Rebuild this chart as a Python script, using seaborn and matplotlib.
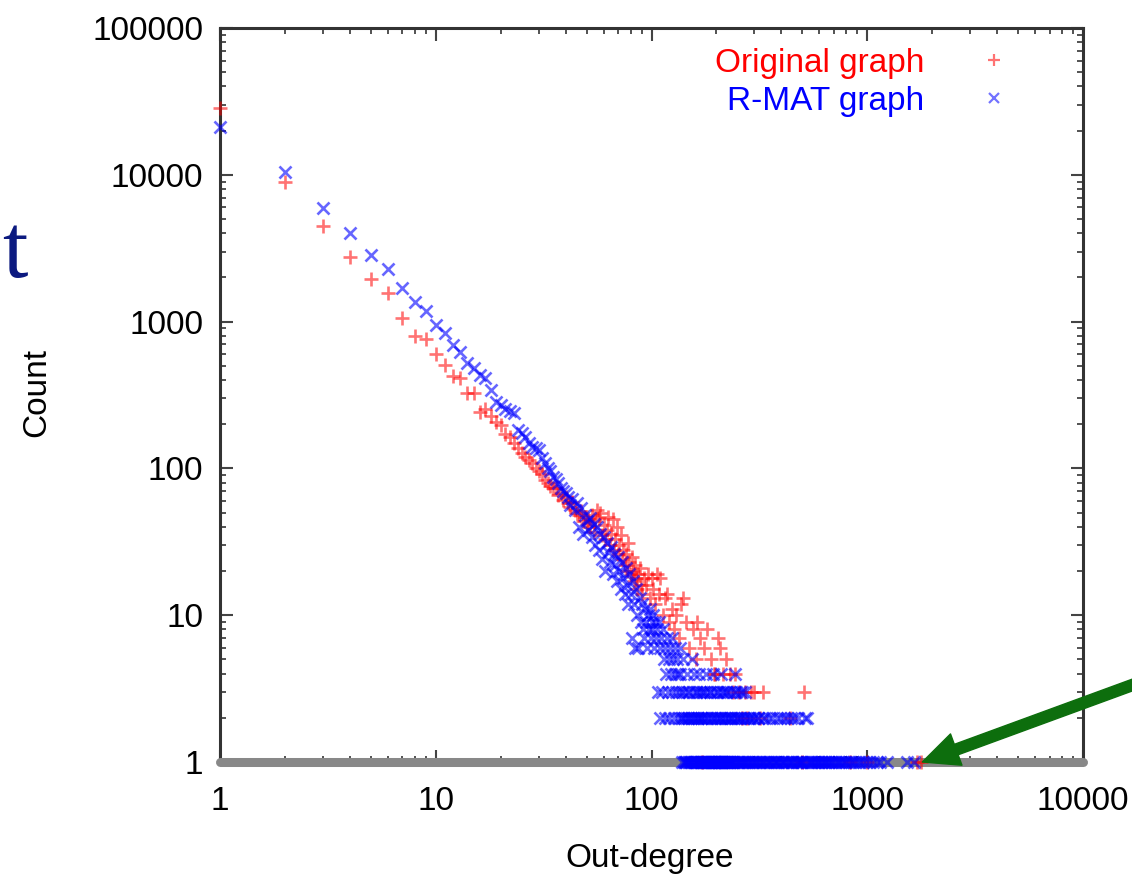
import matplotlib
matplotlib.use('Agg')

import matplotlib.pyplot as plt
from matplotlib.lines import Line2D
import numpy as np
import pandas as pd
import seaborn as sns

sns.set_style("ticks")
plt.rcParams['font.family'] = ['Liberation Sans', 'DejaVu Sans']

# original graph: counts for out-degree 1..90, then sparse tail
orig_head = [28500, 8900, 4450, 2750, 1950, 1560, 1050, 800, 760, 600,
             505, 425, 413, 327, 325, 242, 255, 228, 207, 196,
             172, 164, 150, 138, 127, 119, 114, 108, 101, 96,
             92, 84, 80, 76, 73, 74, 66, 68, 61, 64,
             58, 55, 59, 52, 50, 48, 51, 44, 47, 42,
             45, 40, 48, 37, 44, 52, 46, 50, 35, 41,
             33, 38, 47, 30, 36, 45, 28, 33, 40, 26,
             30, 35, 24, 28, 22, 26, 20, 31, 23, 19,
             25, 20, 17, 22, 18, 15, 19, 21, 16, 14]
orig_tail_deg = [92, 94, 96, 98, 100, 102, 104, 106, 108, 110, 113, 116, 118, 121,
                 124, 127, 130, 134, 137, 140, 145, 150, 155, 160, 162, 168, 175,
                 181, 188, 195, 197, 203, 207, 215, 222, 230, 238, 245, 255, 262,
                 270, 277, 290, 300, 318, 330, 440, 510,
                 172, 500, 830, 1000, 1700, 1780]
orig_tail_cnt = [18, 16, 19, 13, 18, 15, 12, 19, 14, 18, 10, 13, 14, 9,
                 11, 8, 10, 7, 12, 13, 9, 6, 8, 5, 9, 7, 6,
                 8, 5, 4, 4, 7, 6, 4, 5, 4, 3, 4, 3, 2,
                 3, 2, 3, 3, 2, 3, 2, 3,
                 1, 1, 1, 1, 1, 1]

# R-MAT graph: counts for out-degree 1..105, then sparse tail
rmat_head = [21200, 10400, 5940, 3990, 2840, 2280, 1690, 1360, 1180, 950,
             836, 693, 621, 523, 483, 433, 413, 342, 283, 270,
             254, 245, 238, 183, 175, 164, 150, 140, 137, 133,
             118, 108, 101, 96, 88, 85, 80, 74, 70, 68,
             64, 56, 62, 52, 58, 40, 54, 36, 48, 44,
             38, 46, 34, 42, 30, 40, 28, 36, 24, 34,
             20, 31, 27, 23, 29, 19, 26, 22, 17, 25,
             20, 15, 23, 18, 14, 21, 16, 12, 19, 14,
             7, 17, 12, 6, 15, 10, 6, 13, 9, 12,
             8, 7, 11, 9, 6, 10, 8, 11, 7, 9,
             8, 10, 6, 9, 7]
rmat_tail_deg = [106, 107, 108, 109, 110, 111, 112, 113, 114, 115, 116, 117, 118, 119, 120,
                 121, 122, 123, 124, 125, 126, 127, 128, 129, 130, 131, 132, 133, 134, 135,
                 136, 138, 140, 142, 144, 146, 148, 150, 152, 154, 156, 158, 160, 162, 164,
                 166, 168, 170, 172, 175, 178, 181, 184, 187, 190, 193, 196, 199, 202, 205,
                 208, 211, 214, 217, 220, 224, 228, 232, 236, 240, 244, 248, 252, 256, 260,
                 265, 270, 275, 280, 286, 292, 298, 305, 312, 320, 328, 336, 345, 354, 363,
                 372, 382, 392, 402, 413, 424, 436, 448, 460, 473, 486, 500, 512, 525, 540,
                 556, 573, 590, 608, 627, 646, 666, 690, 715, 740, 770, 800, 840, 880, 930,
                 990, 1060, 1150, 1230, 1530, 1640]
rmat_tail_cnt = [8, 3, 9, 2, 6, 7, 3, 8, 5, 2, 6, 4, 7, 3, 5,
                 2, 6, 4, 3, 7, 5, 2, 4, 6, 3, 5, 2, 4, 3, 6,
                 4, 2, 5, 3, 1, 4, 2, 3, 1, 5, 2, 4, 3, 1, 2,
                 4, 3, 2, 1, 3, 4, 2, 1, 3, 2, 4, 1, 2, 3, 1,
                 2, 4, 3, 1, 2, 3, 2, 1, 2, 3, 4, 2, 1, 3, 2,
                 1, 3, 2, 1, 2, 1, 2, 1, 2, 1, 1, 2, 1, 1, 2,
                 1, 1, 2, 1, 1, 2, 1, 1, 2, 1, 1, 1, 2, 2, 1,
                 1, 1, 1, 1, 1, 1, 1, 1, 1, 1, 1, 1, 1, 1, 1,
                 1, 1, 1, 1, 1, 1]
# further R-MAT degrees seen on the low-count rows
rmat_deg_at_1 = [139, 141, 143, 145, 147, 149, 151, 153, 155, 157, 159, 161, 163, 165, 167,
                 169, 171, 173, 174, 176, 177, 179, 180, 182, 183, 185, 186, 188, 189, 191,
                 192, 194, 195, 197, 198, 200, 201, 203, 204, 206, 207, 209, 210, 212, 213,
                 215, 216, 218, 219, 221, 223, 225, 227, 229, 231, 233, 235, 237, 239, 242,
                 246, 250, 254, 258, 262, 267, 272, 277, 283, 289, 295, 301, 308, 315, 324,
                 332, 340, 350, 358, 368, 377, 387, 397, 408, 418, 430, 442, 454, 466, 480,
                 493, 506, 518, 532, 548, 564, 582, 600, 618, 636, 656, 678, 702, 728, 755,
                 785, 820, 860, 905, 960, 1020, 1110]
rmat_deg_at_2 = [137, 141, 145, 149, 153, 157, 161, 165, 169, 173, 177, 183, 189, 195, 201,
                 207, 213, 219, 226, 234, 242, 250, 258, 268, 283, 295, 310, 330, 352, 380,
                 410, 445, 480]
rmat_deg_at_3 = [139, 147, 155, 163, 171, 179, 186, 194, 204, 212, 222, 230, 246, 262]

x_ticks = [1, 10, 100, 1000, 10000]
x_labels = ['1', '10', '100', '1000', '10000']
y_ticks = [1, 10, 100, 1000, 10000, 100000]
y_labels = ['1', '10', '100', '1000', '10000', '100000']

orig = pd.DataFrame({'degree': list(range(1, len(orig_head) + 1)) + orig_tail_deg,
                     'count': orig_head + orig_tail_cnt})
rmat = pd.DataFrame({'degree': list(range(1, len(rmat_head) + 1)) + rmat_tail_deg
                     + rmat_deg_at_1 + rmat_deg_at_2 + rmat_deg_at_3,
                     'count': rmat_head + rmat_tail_cnt + [1] * len(rmat_deg_at_1)
                     + [2] * len(rmat_deg_at_2) + [3] * len(rmat_deg_at_3)})

fig = plt.figure(figsize=(11.32, 8.82), dpi=100)
ax = fig.add_axes([220 / 1132, 1 - 762 / 882, 863 / 1132, 734 / 882])
ax.set_xscale('log')
ax.set_yscale('log')

ax.axhline(1, color='#888888', lw=6.5, zorder=2.6, clip_on=False)

sns.scatterplot(data=orig, x='degree', y='count', marker='+', color='red', s=100,
                linewidth=1.9, alpha=0.55, ax=ax, zorder=3, clip_on=False, legend=False)
sns.scatterplot(data=rmat, x='degree', y='count', marker='x', color='blue', s=75,
                linewidth=1.9, alpha=0.6, ax=ax, zorder=3.1, clip_on=False, legend=False)

ax.set_xlim(1, 10000)
ax.set_ylim(1, 100000)
ax.set_xticks(x_ticks)
ax.set_xticklabels(x_labels)
ax.set_yticks(y_ticks)
ax.set_yticklabels(y_labels)
ax.set_xlabel('')
ax.set_ylabel('')

for s in ax.spines.values():
    s.set_linewidth(2.2)
    s.set_color('#333333')
ax.tick_params(which='both', direction='in', top=True, right=True, color='#444444')
ax.tick_params(which='major', length=9, width=1.5, labelsize=24, labelcolor='black')
ax.tick_params(which='minor', length=4.5, width=1.3)
ax.tick_params(axis='x', pad=17)
ax.tick_params(axis='y', pad=12)

handles = [Line2D([], [], ls='', marker='+', color='red', alpha=0.55, ms=9, mew=1.6),
           Line2D([], [], ls='', marker='x', color='blue', alpha=0.55, ms=7, mew=1.6)]
ax.legend(handles, ['Original graph', 'R-MAT graph'], markerfirst=False, frameon=False,
          fontsize=24, labelcolor=['red', 'blue'], loc='upper right',
          bbox_to_anchor=(1011 / 1132, 1 - 48 / 882), bbox_transform=fig.transFigure,
          borderaxespad=0, borderpad=0, handlelength=1.0, handletextpad=1.6,
          labelspacing=0.2)

fig.text(650 / 1132, 1 - 859 / 882, 'Out-degree', ha='center', va='center', fontsize=24,
         color='black')
fig.text(37 / 1132, 1 - 393 / 882, 'Count', ha='center', va='center', rotation=90,
         fontsize=24, color='black')

# cropped slide text and pointer arrow
fig.text(0.002, 1 - 277 / 882, 't', family=['Liberation Serif'], fontsize=66,
         color='#0c1a80', ha='left', va='baseline')
ax.annotate('', xy=(1800, 1), xycoords='data',
            xytext=(1.01, 1 - 681 / 882), textcoords='figure fraction',
            arrowprops=dict(facecolor='#0d6e0d', edgecolor='#0d6e0d', width=8,
                            headwidth=24, headlength=26, shrink=0),
            annotation_clip=False)

fig.savefig('out.png', dpi=100)
